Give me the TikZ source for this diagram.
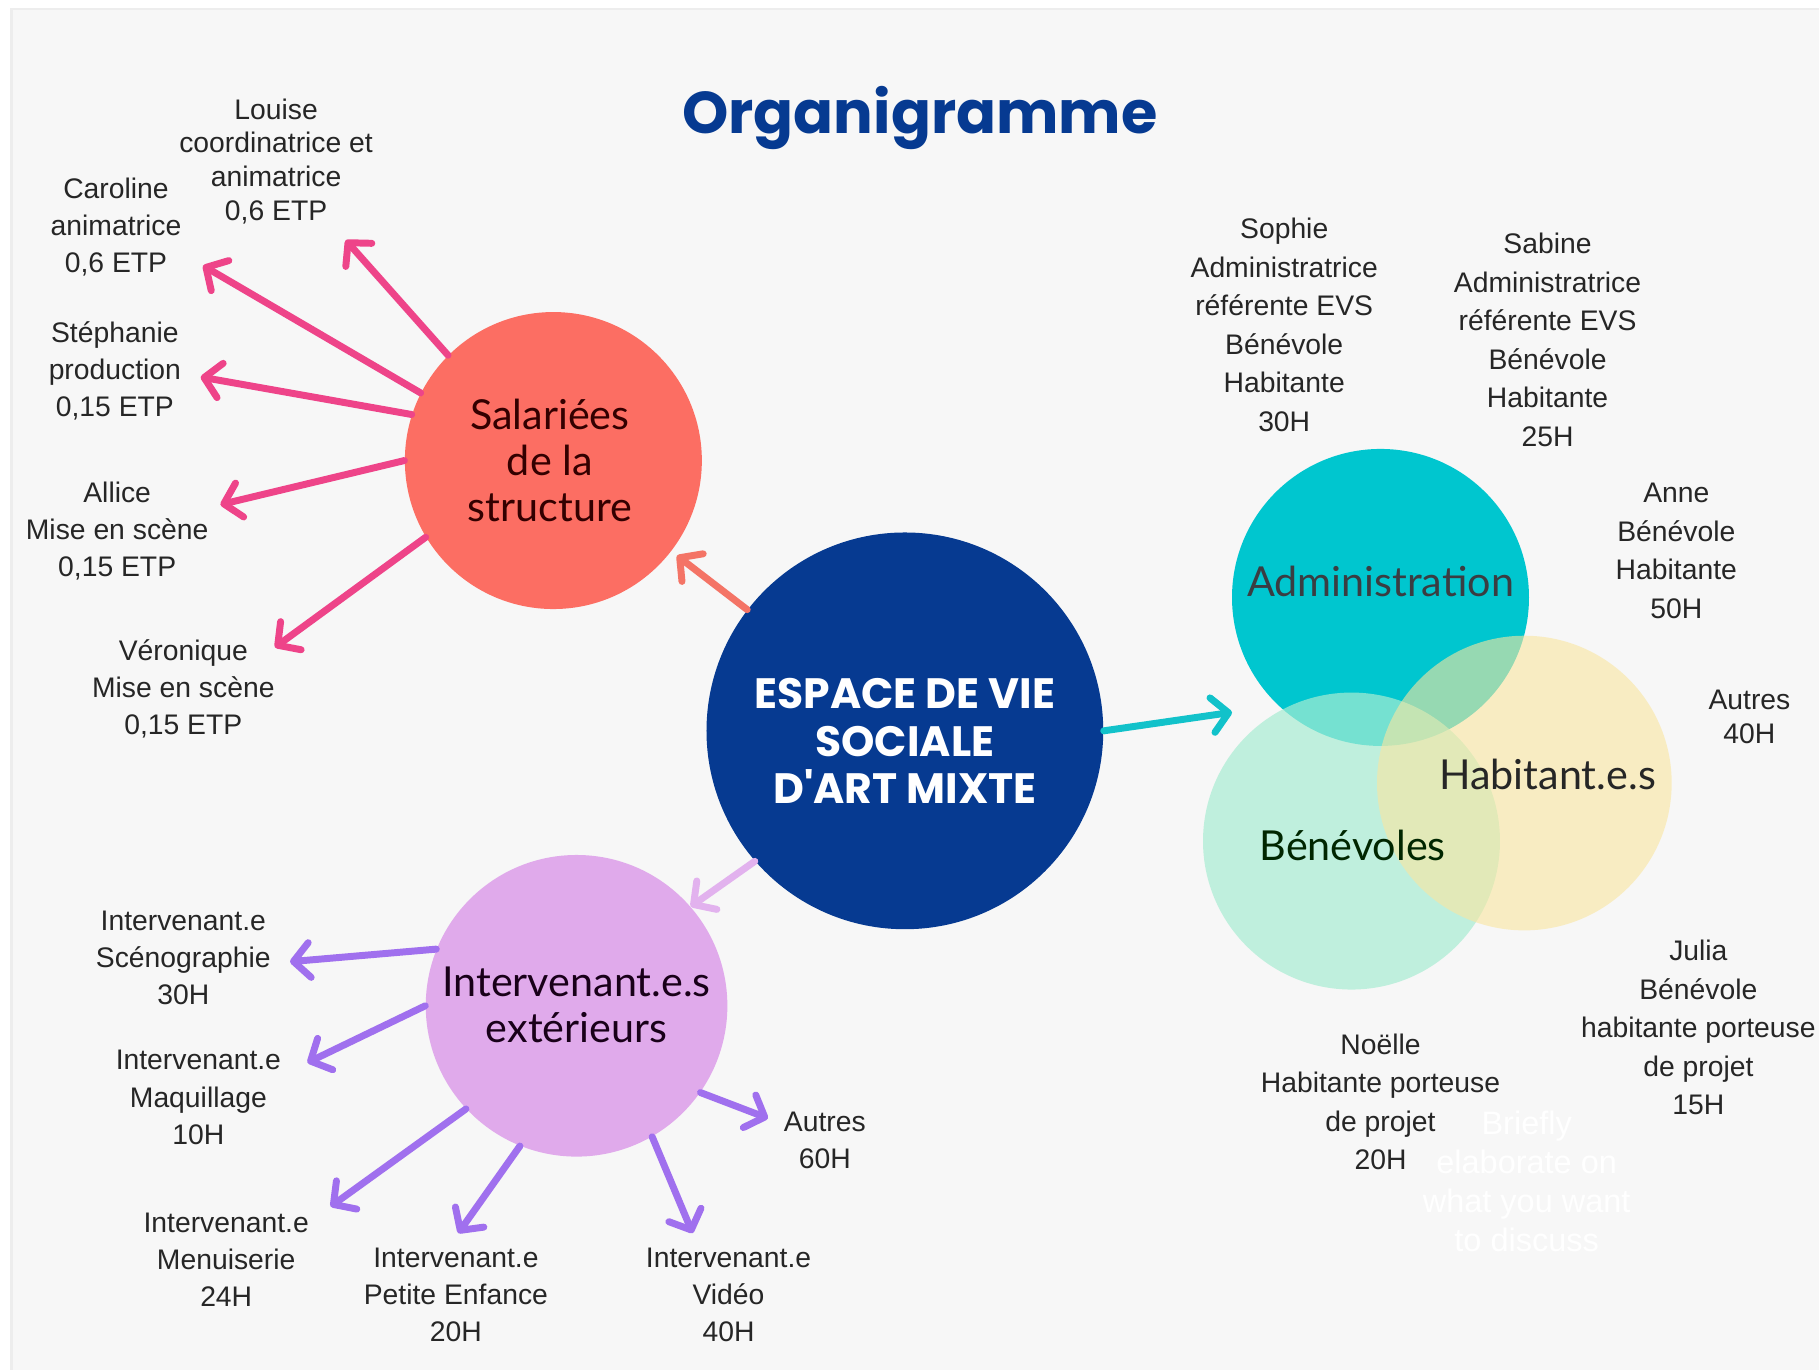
\documentclass[tikz,border=0pt]{standalone}
\usepackage{fontspec}
\setmainfont{Liberation Sans}
\newfontfamily\poppins{Poppins}
\newfontfamily\latofont{Lato}
\usetikzlibrary{arrows.meta}
\definecolor{bgc}{HTML}{F7F7F7}
\definecolor{navy}{HTML}{063A91}
\definecolor{salmon}{HTML}{FC6E63}
\definecolor{pinkA}{HTML}{EE4489}
\definecolor{lilac}{HTML}{E0AAEB}
\definecolor{violetA}{HTML}{A070EE}
\definecolor{tealC}{HTML}{00C6CF}
\definecolor{mint}{HTML}{A8EDD2}
\definecolor{sand}{HTML}{FAE6A0}
\definecolor{cyanA}{HTML}{12C2CA}
\definecolor{salArrow}{HTML}{F47466}
\definecolor{intArrow}{HTML}{E2B2EE}
\begin{document}
\begin{tikzpicture}[x=0.5pt,y=-0.5pt,
  lbl/.style={align=center,inner sep=0pt,text=black!85,font=\fontsize{12.2}{16.6}\selectfont},
  lbll/.style={lbl,font=\fontsize{12.2}{16}\selectfont},
  bubble/.style={circle,inner sep=0pt,align=center},
  bubtext/.style={align=center,inner sep=0pt,font=\latofont\fontsize{17.8}{20}\selectfont},
  tipstyle/.style={-{Straight Barb[round,length=7pt,width=15pt]}},
  pinkarrow/.style={draw=pinkA,line width=3pt,line cap=round,tipstyle},
  violetarrow/.style={draw=violetA,line width=3pt,line cap=round,tipstyle},
  mainarrow/.style={line width=3pt,line cap=round,tipstyle}
]
\useasboundingbox (0,0) rectangle (1568,1181);
\fill[white] (0,0) rectangle (1568,1181);
\fill[bgc] (10,8) rectangle (1568,1181);
\draw[black!7,line width=1pt] (10,1181) -- (10,8) -- (1568,8);

% title
\node[font=\poppins\bfseries\fontsize{25.4}{30}\selectfont,text=navy] (title) at (793,102) {Organigramme};

% main circles
\node[bubble,fill=navy,minimum size=171pt] (evs) at (780,630) {};
\node[font=\poppins\bfseries\fontsize{18.3}{20.5}\selectfont,text=white,align=center,inner sep=0pt] (evsT) at (780,639) {ESPACE DE VIE\\SOCIALE\\D'ART MIXTE};

\node[bubble,fill=salmon,minimum size=128pt] (sal) at (477,397) {};
\node[bubtext,text=black!80!red] (salT) at (474,397) {Salariées\\de la\\structure};

\node[bubble,fill=lilac,minimum size=130pt] (int) at (497,867) {};
\node[bubtext,text=black!80!violet] (intT) at (497,866) {Intervenant.e.s\\extérieurs};

% venn
\node[bubble,fill=tealC,minimum size=128pt] (adm) at (1190,515) {};
\node[bubble,fill=mint,fill opacity=0.7,minimum size=128pt] (ben) at (1165,725) {};
\node[bubble,fill=sand,fill opacity=0.6,minimum size=127pt] (hab) at (1314,675) {};
\node[bubtext,text=black!85!cyan] (admT) at (1190,501) {Administration};
\node[bubtext,text=black!85] (habT) at (1334,668) {Habitant.e.s};
\node[bubtext,text=black!85!green] (benT) at (1166,729) {Bénévoles};

% main arrows
\coordinate (vennIn) at (1062,614);
\draw[mainarrow,draw=salArrow,shorten >=3pt] (evs) -- (sal);
\draw[mainarrow,draw=intArrow] (evs.221) -- (int.41);
\draw[mainarrow,draw=cyanA] (evs.0) -- (vennIn);

% salariees labels
\node[lbl,font=\fontsize{12.2}{14.5}\selectfont] (louise) at (238,139) {Louise\\coordinatrice et\\animatrice\\0,6 ETP};
\node[lbll] (caroline) at (100,196) {Caroline\\animatrice\\0,6 ETP};
\node[lbll] (stephanie) at (99,320) {Stéphanie\\production\\0,15 ETP};
\node[lbll] (allice) at (101,458) {Allice\\Mise en scène\\0,15 ETP};
\node[lbll] (veronique) at (158,594) {Véronique\\Mise en scène\\0,15 ETP};

\coordinate (eLouise) at (298,207);
\coordinate (eCaroline) at (175,229);
\coordinate (eStephanie) at (173,325);
\coordinate (eAllice) at (190,435);
\coordinate (eVeronique) at (237,558);
\draw[pinkarrow] (sal.135) -- (eLouise);
\draw[pinkarrow] (sal.153) -- (eCaroline);
\draw[pinkarrow] (sal.162) -- (eStephanie);
\draw[pinkarrow] (sal.180) -- (eAllice);
\draw[pinkarrow] (sal.211) -- (eVeronique);

% intervenants labels
\node[lbll] (sceno) at (158,826) {Intervenant.e\\Scénographie\\30H};
\node[lbll] (maquillage) at (171,946) {Intervenant.e\\Maquillage\\10H};
\node[lbll] (menuiserie) at (195,1086) {Intervenant.e\\Menuiserie\\24H};
\node[lbll] (petite) at (393,1116) {Intervenant.e\\Petite Enfance\\20H};
\node[lbll] (video) at (628,1116) {Intervenant.e\\Vidéo\\40H};
\node[lbll] (autresL) at (711,983) {Autres\\60H};

\coordinate (eSceno) at (250,829);
\coordinate (eMaquillage) at (265,916);
\coordinate (eMenuiserie) at (285,1040);
\coordinate (ePetite) at (395,1063);
\coordinate (eVideo) at (597,1063);
\coordinate (eAutresL) at (662,964);
\draw[violetarrow] (int.158) -- (eSceno);
\draw[violetarrow] (int.180) -- (eMaquillage);
\draw[violetarrow] (int.223) -- (eMenuiserie);
\draw[violetarrow] (int.248) -- (ePetite);
\draw[violetarrow] (int.300) -- (eVideo);
\draw[violetarrow] (int.325) -- (eAutresL);

% right labels
\node[lbl] (sophie) at (1107,280) {Sophie\\Administratrice\\référente EVS\\Bénévole\\Habitante\\30H};
\node[lbl] (sabine) at (1334,293) {Sabine\\Administratrice\\référente EVS\\Bénévole\\Habitante\\25H};
\node[lbl] (anne) at (1445,475) {Anne\\Bénévole\\Habitante\\50H};
\node[lbl,font=\fontsize{12.2}{15}\selectfont] (autresR) at (1508,618) {Autres\\40H};
\node[lbl] (julia) at (1464,886) {Julia\\Bénévole\\habitante porteuse\\de projet\\15H};
\node[lbl] (noelle) at (1190,950) {Noëlle\\Habitante porteuse\\de projet\\20H};

% faint placeholder text
\node[lbl,text=white,font=\fontsize{14}{16.8}\selectfont] (brief) at (1316,1018) {Briefly\\elaborate on\\what you want\\to discuss};
\end{tikzpicture}
\end{document}
